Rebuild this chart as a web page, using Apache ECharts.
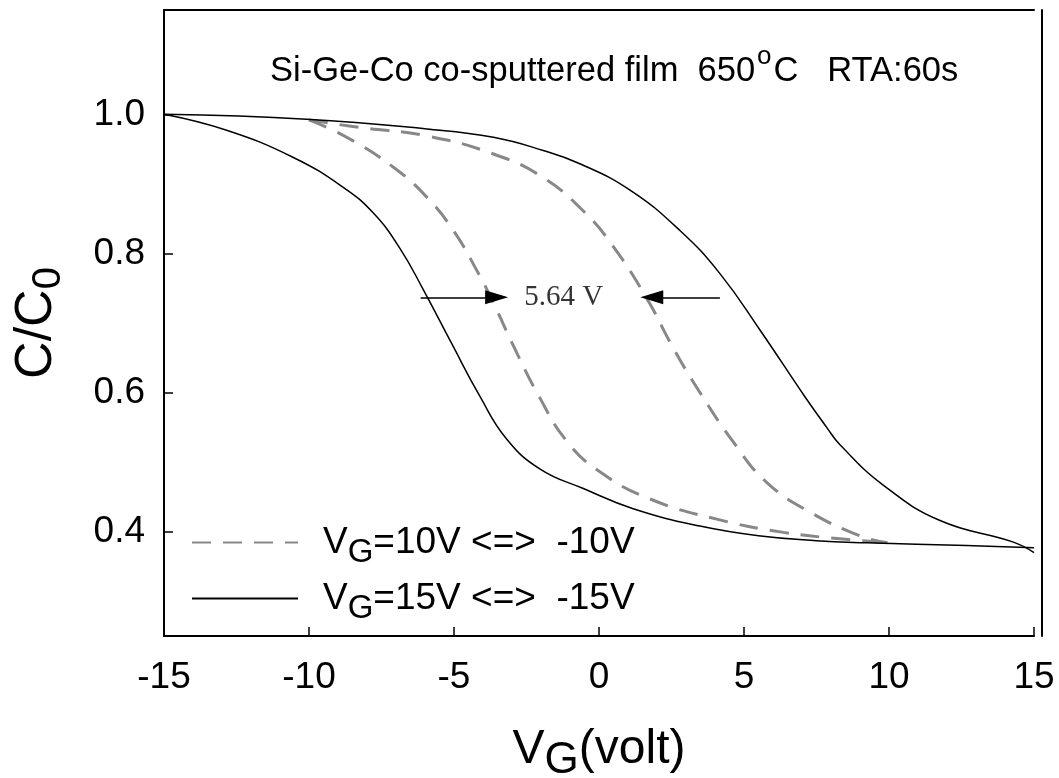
<!DOCTYPE html>
<html>
<head>
<meta charset="utf-8">
<script src="https://cdn.jsdelivr.net/npm/echarts@6/dist/echarts.min.js"></script>
<style>html,body{margin:0;padding:0;background:#fff;}#c{width:1059px;height:778px;}</style>
</head>
<body>
<div id="c"></div>
<script>
// ---- data ----
const xTicks = [-15, -10, -5, 0, 5, 10, 15];
const yTicks = [0.4, 0.6, 0.8, 1.0];

// VG = 15V <=> -15V (solid), two branches of the hysteresis loop
const solidLeft = [[-15,1.0],[-12.84,0.977],[-10.54,0.938],[-8.82,0.895],[-7.78,0.858],[-6.86,0.807],[-6.06,0.748],[-5.10,0.672],[-4.10,0.594],[-3.18,0.533],[-2.03,0.490],[-0.54,0.462],[1.18,0.433],[3.48,0.408],[5.5,0.394],[7.5,0.387],[9.23,0.384],[12.68,0.380],[15,0.377]];
const solidRight = [[-15,1.0],[-10.08,0.993],[-5.94,0.979],[-3.64,0.967],[-1.92,0.948],[-0.66,0.929],[1.07,0.891],[2.79,0.833],[4.17,0.771],[5.55,0.690],[7.10,0.594],[7.85,0.550],[8.31,0.525],[9.80,0.467],[11.76,0.416],[14.29,0.385],[15,0.370]];

// VG = 10V <=> -10V (dashed)
const dashLeft = [[-10,0.992],[-8.70,0.967],[-7.09,0.924],[-5.94,0.881],[-5.02,0.833],[-4.22,0.776],[-3.64,0.729],[-2.95,0.667],[-2.10,0.597],[-1.11,0.530],[0.03,0.486],[1.76,0.447],[4.06,0.418],[6.36,0.399],[8.5,0.389],[9.95,0.384]];
const dashRight = [[-10,0.992],[-8.24,0.981],[-5.94,0.969],[-3.64,0.943],[-1.92,0.909],[-0.54,0.861],[0.44,0.813],[1.64,0.736],[2.56,0.664],[3.42,0.604],[4.63,0.529],[5.78,0.471],[7.28,0.428],[9.0,0.394],[9.95,0.384]];

// annotation: shift arrows and label
const arrowLeft = [[-6.15,0.737],[-3.53,0.737]];
const arrowRight = [[4.17,0.737],[1.82,0.737]];
const shiftLabel = [[-1.22,0.737]];
const shiftText = '5.64 V';

const names = ['VG=10V <=>  -10V', 'VG=15V <=>  -15V'];
const legendRich = {
  '10': '{v|V}{s|G}{t|=10V <=>  -10V}',
  '15': '{v|V}{s|G}{t|=15V <=>  -15V}'
};

const FONT = 'Liberation Sans';
const chart = echarts.init(document.getElementById('c'), null, {renderer:'canvas'});

const dashStyle = {color:'#888888', width:3, type:[19,12]};
const solidStyle = {color:'#000000', width:1.5, type:'solid'};
const SMOOTH = 0.45;

chart.setOption({
  animation:false,
  backgroundColor:'#ffffff',
  title:{
    text:'{a|Si-Ge-Co co-sputtered film  650}{s|o}{a|C   RTA:60s}',
    left:265, top:47,
    textStyle:{
      fontWeight:'normal',
      rich:{
        a:{fontFamily:FONT, fontSize:34.5, fontWeight:'normal', color:'#000', lineHeight:38},
        s:{fontFamily:FONT, fontSize:26, fontWeight:'normal', color:'#000', lineHeight:24, padding:[0,2,28,2]}
      }
    }
  },
  grid:{left:164, right:25, top:10, bottom:142, containLabel:false, outerBoundsMode:'none'},
  legend:{
    data:names,
    orient:'vertical',
    left:186, top:511,
    itemWidth:106, itemHeight:14, itemGap:3,
    selectedMode:false,
    itemStyle:{opacity:0},
    formatter:function(n){ return n.indexOf('10V')>=0 ? legendRich['10'] : legendRich['15']; },
    textStyle:{
      rich:{
        v:{fontFamily:FONT, fontSize:37, color:'#000', lineHeight:40, padding:[0,0,0,20]},
        s:{fontFamily:FONT, fontSize:33, color:'#000', lineHeight:33, padding:[20,0,0,0]},
        t:{fontFamily:FONT, fontSize:37, color:'#000', lineHeight:40}
      }
    }
  },
  xAxis:[{
    type:'value', min:-15, max:15, interval:5, position:'bottom',
    axisLine:{show:true, onZero:false, lineStyle:{color:'#000', width:2}},
    axisTick:{show:true, inside:true, length:9, lineStyle:{color:'#000', width:1.5}},
    axisLabel:{fontFamily:FONT, fontSize:37, color:'#000', margin:23},
    splitLine:{show:false},
    name:'{v|V}{s|G}{t|(volt)}', nameLocation:'middle', nameGap:89,
    nameTextStyle:{rich:{
      v:{fontFamily:FONT, fontSize:48, color:'#000', lineHeight:50},
      s:{fontFamily:FONT, fontSize:44, color:'#000', lineHeight:44, padding:[22,0,0,0]},
      t:{fontFamily:FONT, fontSize:48, color:'#000', lineHeight:50}
    }}
  },{
    type:'value', min:-15, max:15, position:'top',
    axisLine:{show:true, onZero:false, lineStyle:{color:'#000', width:2}},
    axisTick:{show:false}, axisLabel:{show:false}, splitLine:{show:false}
  }],
  yAxis:[{
    type:'value', min:0.25, max:1.15, position:'left',
    axisLine:{show:true, onZero:false, lineStyle:{color:'#000', width:2}},
    axisTick:{show:true, inside:true, length:9, customValues:yTicks, lineStyle:{color:'#000', width:1.5}},
    axisLabel:{fontFamily:FONT, fontSize:37, color:'#000', margin:19, customValues:yTicks,
      formatter:function(v){return v.toFixed(1);}},
    splitLine:{show:false},
    name:'{a|C/C}{s|0}', nameLocation:'middle', nameRotate:90, nameGap:100,
    nameTextStyle:{rich:{
      a:{fontFamily:FONT, fontSize:52, color:'#000', lineHeight:54},
      s:{fontFamily:FONT, fontSize:40, color:'#000', lineHeight:40, padding:[24,0,0,0]}
    }}
  },{
    type:'value', min:0.25, max:1.15, position:'right', offset:8,
    axisLine:{show:true, onZero:false, lineStyle:{color:'#000', width:2}},
    axisTick:{show:false}, axisLabel:{show:false}, splitLine:{show:false}
  }],
  series:[
    {name:names[0], type:'line', data:dashLeft, showSymbol:false, symbol:'none', smooth:SMOOTH, lineStyle:dashStyle, itemStyle:{color:'#888888'}},
    {name:names[0], type:'line', data:dashRight, showSymbol:false, symbol:'none', smooth:SMOOTH, lineStyle:dashStyle, itemStyle:{color:'#888888'}},
    {name:names[1], type:'line', data:solidLeft, showSymbol:false, symbol:'none', smooth:SMOOTH, lineStyle:solidStyle, itemStyle:{color:'#000'}},
    {name:names[1], type:'line', data:solidRight, showSymbol:false, symbol:'none', smooth:SMOOTH, lineStyle:solidStyle, itemStyle:{color:'#000'}},
    {name:'annot', type:'scatter', data:shiftLabel, symbolSize:1, itemStyle:{color:'rgba(0,0,0,0)'},
      label:{show:true, position:'inside', formatter:shiftText, fontFamily:'Liberation Serif', fontSize:29, color:'#000'},
      markLine:{
        silent:true, animation:false,
        symbol:['none','triangle'], symbolSize:20,
        label:{show:false},
        lineStyle:{color:'#000', width:1.5, type:'solid'},
        itemStyle:{color:'#000'},
        data:[
          [{coord:arrowLeft[0], symbol:'none'},{coord:arrowLeft[1], symbol:'triangle', symbolSize:[14,23]}],
          [{coord:arrowRight[0], symbol:'none'},{coord:arrowRight[1], symbol:'triangle', symbolSize:[14,23]}]
        ]
      }
    }
  ]
});
</script>
</body>
</html>
